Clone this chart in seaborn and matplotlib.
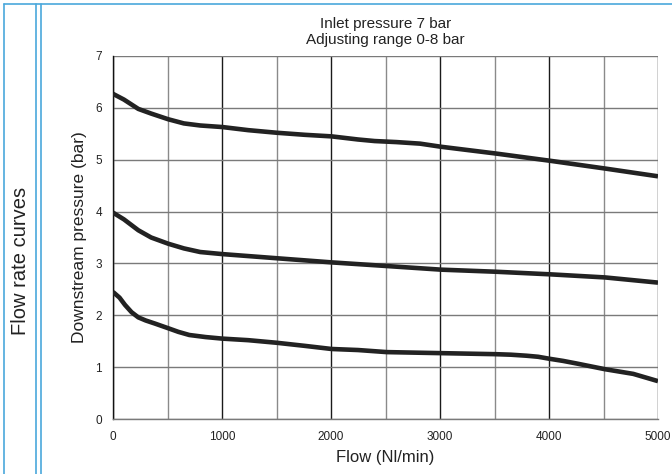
import matplotlib
matplotlib.use("Agg")
import matplotlib.pyplot as plt
from matplotlib.lines import Line2D
import seaborn as sns
import pandas as pd

# Data (flow in Nl/min, pressure in bar)
flow_top = [0, 100, 232, 350, 507, 650, 800, 1003, 1241, 1502, 1761, 2006, 2248, 2400, 2600, 2817, 3009, 3510, 4009, 4514, 5000]
press_top = [6.27, 6.16, 5.98, 5.89, 5.78, 5.70, 5.66, 5.63, 5.57, 5.52, 5.48, 5.45, 5.39, 5.36, 5.34, 5.31, 5.25, 5.12, 4.98, 4.83, 4.68]

flow_mid = [0, 100, 232, 350, 507, 650, 800, 1003, 1502, 2006, 2511, 3009, 3510, 4009, 4514, 5000]
press_mid = [3.98, 3.85, 3.64, 3.50, 3.38, 3.29, 3.22, 3.18, 3.10, 3.02, 2.95, 2.88, 2.84, 2.79, 2.73, 2.63]

flow_low = [0, 60, 110, 170, 232, 300, 385, 507, 600, 700, 850, 1003, 1241, 1502, 1761, 2006, 2248, 2511, 3009, 3510, 3650, 3795, 3900, 4009, 4130, 4254, 4514, 4773, 5000]
press_low = [2.45, 2.34, 2.20, 2.06, 1.96, 1.90, 1.84, 1.75, 1.68, 1.62, 1.58, 1.55, 1.52, 1.47, 1.41, 1.35, 1.33, 1.29, 1.27, 1.25, 1.24, 1.22, 1.20, 1.16, 1.12, 1.07, 0.96, 0.87, 0.73]

x_ticks = [0, 1000, 2000, 3000, 4000, 5000]
y_ticks = [0, 1, 2, 3, 4, 5, 6, 7]

title_lines = ["Inlet pressure 7 bar", "Adjusting range 0-8 bar"]
x_label = "Flow (Nl/min)"
y_label = "Downstream pressure (bar)"
side_label = "Flow rate curves"

sns.set_style("white")
plt.rcParams["font.family"] = ["Liberation Sans", "DejaVu Sans"]

fig = plt.figure(figsize=(6.72, 4.74), dpi=100)
ax = fig.add_axes([113 / 672, 1 - 419 / 474, (658 - 113) / 672, (419 - 56) / 474])

# grid
for xv in range(0, 5001, 500):
    col = "#1a1a1a" if xv % 1000 == 0 else "#8a8a8a"
    ax.axvline(xv, color=col, lw=1.0, zorder=1)
for yv in y_ticks:
    ax.axhline(yv, color="#7a7a7a", lw=1.0, zorder=1)

for fl, pr in [(flow_top, press_top), (flow_mid, press_mid), (flow_low, press_low)]:
    df = pd.DataFrame({"flow": fl, "pressure": pr})
    sns.lineplot(data=df, x="flow", y="pressure", ax=ax, color="#222222",
                 lw=3.3, solid_joinstyle="round", solid_capstyle="butt", zorder=3)

ax.set_xlim(0, 5000)
ax.set_ylim(0, 7)
ax.set_xticks(x_ticks)
ax.set_yticks(y_ticks)
ax.tick_params(axis="both", which="both", labelsize=8.5, colors="#222222",
               length=4, width=0.8, direction="out", pad=4)
ax.tick_params(axis="x", length=3, pad=6)
for s in ["top", "right"]:
    ax.spines[s].set_visible(False)
ax.spines["left"].set_color("#111111")
ax.spines["left"].set_linewidth(1.0)
ax.spines["bottom"].set_color("#7a7a7a")
ax.spines["bottom"].set_linewidth(1.0)

ax.set_xlabel(x_label, fontsize=12, color="#222222", labelpad=5)
ax.set_ylabel(y_label, fontsize=12.5, color="#222222", labelpad=6)

fig.text(385.5 / 672, 1 - 24 / 474, title_lines[0], ha="center", va="center", fontsize=11, color="#222222")
fig.text(385.5 / 672, 1 - 40 / 474, title_lines[1], ha="center", va="center", fontsize=11, color="#222222")
fig.text(21 / 672, 1 - 261 / 474, side_label, ha="center", va="center", rotation=90, fontsize=14.5, color="#222222")

# decorative blue frame lines
blue = "#4aa8dc"
fig.add_artist(Line2D([4 / 672, 1], [1 - 3.5 / 474, 1 - 3.5 / 474], color=blue, lw=1.2, transform=fig.transFigure))
for xp in [4, 36, 41]:
    fig.add_artist(Line2D([xp / 672, xp / 672], [0, 1 - 3.5 / 474], color=blue, lw=1.2, transform=fig.transFigure))

fig.savefig("out.png", dpi=100)
